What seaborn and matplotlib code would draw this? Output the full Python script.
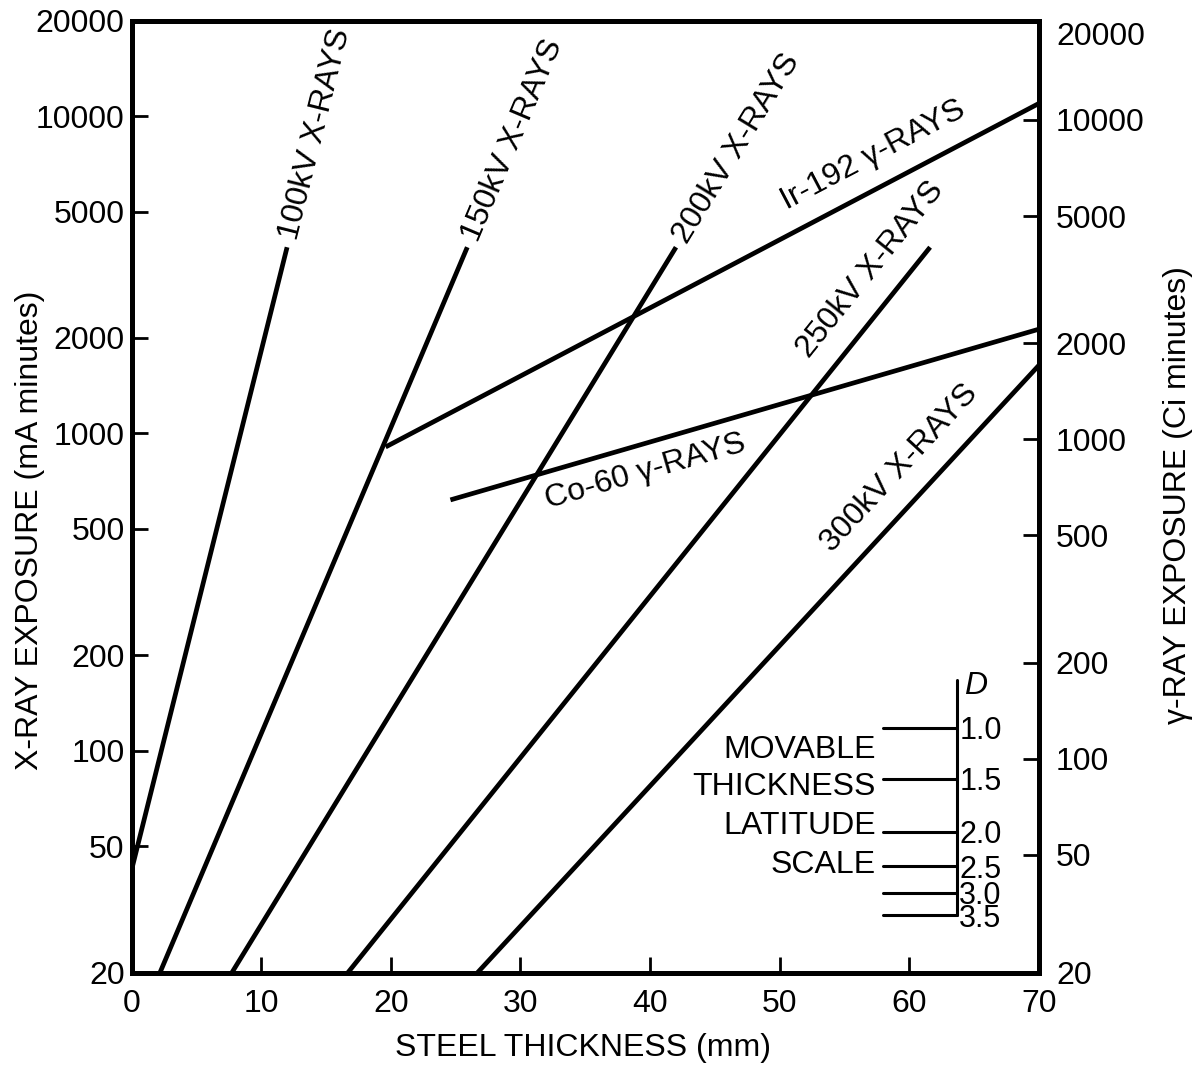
import numpy as np
import pandas as pd
import matplotlib
matplotlib.use("Agg")
import matplotlib.pyplot as plt
import matplotlib.transforms as mtransforms
import seaborn as sns

# ---------------- data ----------------
series_names = ["100kV X-RAYS", "150kV X-RAYS", "200kV X-RAYS", "250kV X-RAYS",
                "300kV X-RAYS", "Ir-192 γ-RAYS", "Co-60 γ-RAYS"]
thickness_start = [0.0, 2.2, 7.75, 16.7, 26.7, 19.6, 24.6]
thickness_end = [12.0, 25.9, 42.0, 61.6, 70.0, 70.0, 70.0]
exposure_start = [42, 20, 20, 20, 20, 906, 617]
exposure_end = [3860, 3860, 3860, 3860, 1640, 10960, 2130]

x_ticks = [0, 10, 20, 30, 40, 50, 60, 70]
y_ticks = [20, 50, 100, 200, 500, 1000, 2000, 5000, 10000, 20000]
y_tick_labels = ["20", "50", "100", "200", "500", "1000", "2000", "5000", "10000", "20000"]
# right (gamma-ray) axis is drawn on a slightly shifted scale in the original
gamma_ticks = [50, 100, 200, 500, 1000, 2000, 5000, 10000]
gamma_tick_labels = ["50", "100", "200", "500", "1000", "2000", "5000", "10000"]
gamma_limits = [21.4, 20490]

latitude_D = ["1.0", "1.5", "2.0", "2.5", "3.0", "3.5"]
latitude_exposure = [118, 81.7, 55.6, 43.2, 35.7, 30.3]
latitude_words = ["MOVABLE", "THICKNESS", "LATITUDE", "SCALE"]

# ---------------- positions / styles ----------------
lat_x = 63.7
lat_tick_x0 = 58.0
lat_top = 167
lat_word_x = 57.4
lat_word_y = [103, 78.7, 59.4, 44.8]
label_pos = {  # x on line, along offset px, perpendicular offset px
    "100kV X-RAYS": (12.0, 8, -8),
    "150kV X-RAYS": (25.9, 8, -8),
    "200kV X-RAYS": (42.0, 8, -8),
    "250kV X-RAYS": (53.3, 9, 24),
    "300kV X-RAYS": (54.9, 10, 24),
    "Ir-192 γ-RAYS": (51.1, 4, 23),
    "Co-60 γ-RAYS": (31.15, 3, -35),
}
FS = 23

sns.set_style("white")
plt.rcParams["font.family"] = ["Liberation Sans", "DejaVu Sans"]
plt.rcParams["text.color"] = "black"
plt.rcParams["axes.labelcolor"] = "black"
plt.rcParams["xtick.color"] = "black"
plt.rcParams["ytick.color"] = "black"

W, H = 1192, 1065
fig = plt.figure(figsize=(W / 100, H / 100), dpi=100)
ax = fig.add_axes([131.5 / W, (H - 972.5) / H, 907.5 / W, 952 / H])

rows = []
for n, xs, xe, ys, ye in zip(series_names, thickness_start, thickness_end,
                             exposure_start, exposure_end):
    rows.append((n, xs, ys))
    rows.append((n, xe, ye))
df = pd.DataFrame(rows, columns=["series", "thickness", "exposure"])

sns.lineplot(data=df, x="thickness", y="exposure", units="series",
             estimator=None, sort=False, color="black", lw=3.4, ax=ax,
             solid_capstyle="butt")

ax.set_yscale("log")
ax.set_xlim(0, 70)
ax.set_ylim(20, 20000)
ax.set_xticks(x_ticks)
ax.set_xticklabels([str(v) for v in x_ticks])
ax.set_yticks(y_ticks)
ax.set_yticklabels(y_tick_labels)
ax.minorticks_off()
ax.set_xlabel("")
ax.set_ylabel("")
for s in ax.spines.values():
    s.set_linewidth(3.6)
    s.set_color("black")
ax.tick_params(axis="both", direction="in", length=11.5, width=2.0,
               labelsize=FS, colors="black")
ax.tick_params(axis="y", pad=5, left=True)
ax.tick_params(axis="x", pad=12, bottom=True)

ax2 = ax.twinx()
ax2.set_yscale("log")
ax2.set_ylim(*gamma_limits)
ax2.set_yticks(gamma_ticks)
ax2.set_yticklabels(gamma_tick_labels)
ax2.minorticks_off()
for s in ax2.spines.values():
    s.set_visible(False)
ax2.tick_params(axis="y", direction="in", length=11.5, width=2.0,
                labelsize=FS, pad=12, right=True, colors="black")
# end labels of the gamma scale (limits fall just outside the shifted scale)
rtrans = mtransforms.blended_transform_factory(ax2.transAxes, ax2.transData) + \
    mtransforms.ScaledTranslation(17 / 100, 0, fig.dpi_scale_trans)
ax2.text(1.0, 20000 * 0.93, "20000", transform=rtrans, ha="left",
         va="center_baseline", fontsize=FS)
ax2.text(1.0, gamma_limits[0], "20", transform=rtrans, ha="left",
         va="center_baseline", fontsize=FS)

# line labels
fig.canvas.draw()
for n, xs, xe, ys, ye in zip(series_names, thickness_start, thickness_end,
                             exposure_start, exposure_end):
    xa, along, perp = label_pos[n]
    ya = np.exp(np.interp(xa, [xs, xe], [np.log(ys), np.log(ye)]))
    p1 = ax.transData.transform((xs, ys))
    p2 = ax.transData.transform((xe, ye))
    ang = np.arctan2(p2[1] - p1[1], p2[0] - p1[0])
    d = np.array([np.cos(ang), np.sin(ang)])
    nrm = np.array([-np.sin(ang), np.cos(ang)])
    off = along * d + perp * nrm
    ax.annotate(n, xy=(xa, ya), xycoords="data", xytext=(off[0], off[1]),
                textcoords="offset pixels", rotation=np.degrees(ang),
                rotation_mode="anchor", ha="left", va="baseline",
                fontsize=FS, color="black")

# movable thickness latitude scale
ax.plot([lat_x, lat_x], [lat_top, latitude_exposure[-1]], color="black", lw=2.2)
for lab, yv in zip(latitude_D, latitude_exposure):
    ax.plot([lat_tick_x0, lat_x], [yv, yv], color="black", lw=2.2)
    ax.text(lat_x + 0.15, yv, lab, ha="left", va="center_baseline", fontsize=FS - 1)
ax.text(lat_x + 0.5, 164, "D", ha="left", va="center_baseline", fontsize=FS,
        style="italic")
for w, yv in zip(latitude_words, lat_word_y):
    ax.text(lat_word_x, yv, w, ha="right", va="center_baseline", fontsize=FS)

# axis titles
fig.text(583 / W, 1 - 1048 / H, "STEEL THICKNESS (mm)", ha="center", va="center", fontsize=FS)
fig.text(30 / W, 1 - 530 / H, "X-RAY EXPOSURE (mA minutes)", ha="center", va="center",
         rotation=90, fontsize=FS)
fig.text(1178 / W, 1 - 495 / H, "γ-RAY EXPOSURE (Ci minutes)", ha="center", va="center",
         rotation=90, fontsize=FS)

fig.savefig("out.png", dpi=100)
